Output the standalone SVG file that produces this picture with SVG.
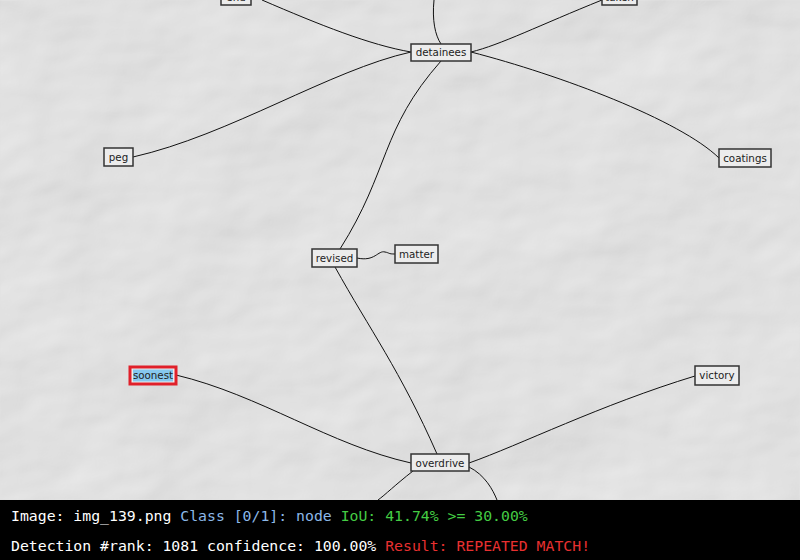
<svg xmlns="http://www.w3.org/2000/svg" width="800" height="560" viewBox="0 0 800 560">
<defs>
<filter id="paper" x="0" y="0" width="100%" height="100%">
<feTurbulence type="fractalNoise" baseFrequency="0.006 0.009" numOctaves="4" seed="7" result="n"/>
<feDiffuseLighting in="n" surfaceScale="4" lighting-color="#f4f4f4" diffuseConstant="1" result="l">
<feDistantLight azimuth="225" elevation="55"/>
</feDiffuseLighting>
<feComposite in="l" in2="SourceGraphic" operator="in"/>
</filter>
<style>
.edge{fill:none;stroke:#111;stroke-width:1}
.box{fill:#ececec;stroke:#333;stroke-width:1.5}
.lbl{font-family:"DejaVu Sans",sans-serif;font-size:10.3px;fill:#222;text-anchor:middle}
.hud{font-family:"DejaVu Sans Mono",monospace;font-size:14.8px}
</style>
</defs>
<rect x="0" y="0" width="800" height="500" fill="#ebebeb"/>
<rect x="0" y="0" width="800" height="500" fill="#ebebeb" filter="url(#paper)" opacity="0.9"/>
<g id="connectors">
<path class="edge" d="M262,0 C320,25 370,45 411,52"/>
<path class="edge" d="M434,0 C432,20 435,35 441,44"/>
<path class="edge" d="M602,0 C540,25 500,45 471,52"/>
<path class="edge" d="M133,157 C230,135 330,70 411,52"/>
<path class="edge" d="M471,52 C560,75 680,120 719,158"/>
<path class="edge" d="M441,61 C380,130 390,170 340,249"/>
<path class="edge" d="M357,258 C375,262 378,250 385,252 C390,253 388,254 395,254"/>
<path class="edge" d="M335,267 C370,330 400,370 437,454"/>
<path class="edge" d="M176,375 C260,395 330,445 411,463"/>
<path class="edge" d="M695,376 C600,405 520,445 469,463"/>
<path class="edge" d="M413,471 C395,485 385,495 378,500"/>
<path class="edge" d="M469,467 C485,475 493,490 497,500"/>
</g>
<g id="node-top-left"><rect class="box" x="221" y="-12" width="30" height="17"/><text class="lbl" x="236" y="1">end</text></g>
<g id="node-top-right"><rect class="box" x="602" y="-12" width="35" height="17"/><text class="lbl" x="619.5" y="1">taken</text></g>
<g id="node-detainees"><rect class="box" x="411" y="44" width="60" height="17"/><text class="lbl" x="441" y="56">detainees</text></g>
<g id="node-peg"><rect class="box" x="104" y="148" width="29" height="18"/><text class="lbl" x="118.5" y="161">peg</text></g>
<g id="node-coatings"><rect class="box" x="719" y="149" width="52" height="18"/><text class="lbl" x="745" y="162">coatings</text></g>
<g id="node-revised"><rect class="box" x="312" y="249" width="45" height="18"/><text class="lbl" x="334.5" y="262">revised</text></g>
<g id="node-matter"><rect class="box" x="395" y="245" width="43" height="18"/><text class="lbl" x="416.5" y="258">matter</text></g>
<g id="node-soonest"><rect x="130" y="367" width="46" height="17" fill="#ececec" stroke="#e0202a" stroke-width="3"/><rect x="133" y="369.5" width="40" height="12" fill="#86c8ee"/><text class="lbl" x="153" y="379">soonest</text></g>
<g id="node-victory"><rect class="box" x="695" y="366" width="44" height="19"/><text class="lbl" x="717" y="379">victory</text></g>
<g id="node-overdrive"><rect class="box" x="411" y="454" width="58" height="17"/><text class="lbl" x="440" y="466.5">overdrive</text></g>
<rect x="0" y="500" width="800" height="60" fill="#000"/>
<text class="hud" x="11" y="521" xml:space="preserve"><tspan fill="#ffffff">Image: img_139.png </tspan><tspan fill="#8cb8e8">Class [0/1]: node </tspan><tspan fill="#44cc44">IoU: 41.74% &gt;= 30.00%</tspan></text>
<text class="hud" x="11" y="551" xml:space="preserve"><tspan fill="#ffffff">Detection #rank: 1081 confidence: 100.00% </tspan><tspan fill="#e83030">Result: REPEATED MATCH!</tspan></text>
</svg>
